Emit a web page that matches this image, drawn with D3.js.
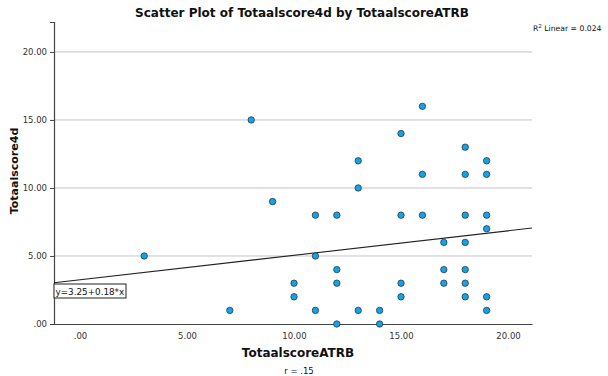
<!DOCTYPE html>
<html>
<head>
<meta charset="utf-8">
<script src="https://cdn.jsdelivr.net/npm/d3@7"></script>
<style>
  body { margin: 0; background: white; }
  text { font-family: "DejaVu Sans", Verdana, sans-serif; }
</style>
</head>
<body>
<div id="chart"></div>
<script>
// data
var atrb = [3, 7, 8, 9, 10, 10, 11, 11, 11, 12, 12, 12, 12, 13, 13, 13, 14, 14,
            15, 15, 15, 15, 16, 16, 16, 17, 17, 17,
            18, 18, 18, 18, 18, 18, 18, 19, 19, 19, 19, 19, 19];
var score4d = [5, 1, 15, 9, 3, 2, 8, 5, 1, 8, 4, 3, 0, 12, 10, 1, 1, 0,
               14, 8, 3, 2, 16, 11, 8, 6, 4, 3,
               13, 11, 8, 6, 4, 3, 2, 12, 11, 8, 7, 2, 1];
var xTicks = [0, 5, 10, 15, 20];
var yTicks = [0, 5, 10, 15, 20];
var fit = { a: 3.25, b: 0.18 };

var w = 608, h = 376;
var plotL = 54, plotR = 532, plotT = 22, plotB = 324;

var svg = d3.select("#chart").append("svg")
  .attr("width", w)
  .attr("height", h);

var x = d3.scaleLinear().domain([-1.215, 21.12]).range([plotL, plotR]);
var y = d3.scaleLinear().domain([0, 22.2]).range([plotB, plotT]);

var fmt = function(d) { return d === 0 ? ".00" : d3.format(".2f")(d); };

// gridlines
svg.append("g").selectAll("line")
  .data(yTicks.filter(function(d) { return d > 0; }))
  .enter().append("line")
  .attr("x1", plotL).attr("x2", plotR)
  .attr("y1", function(d) { return y(d); })
  .attr("y2", function(d) { return y(d); })
  .attr("stroke", "#c4c4c4")
  .attr("stroke-width", 1);

// axes
var xAxis = svg.append("g")
  .attr("transform", "translate(0," + plotB + ")")
  .call(d3.axisBottom(x).tickValues(xTicks).tickFormat(fmt).tickSize(0).tickPadding(9));
var yAxis = svg.append("g")
  .attr("transform", "translate(" + plotL + ",0)")
  .call(d3.axisLeft(y).tickValues(yTicks).tickFormat(fmt).tickSize(4).tickPadding(3));

[xAxis, yAxis].forEach(function(a) {
  a.select(".domain").attr("stroke", "#444").attr("stroke-width", 1.2);
  a.selectAll(".tick line").attr("stroke", "#444");
  a.selectAll("text").attr("fill", "#333").style("font-size", "8.5px")
    .style("font-family", "'DejaVu Sans', sans-serif");
});

// fit line
var line = d3.line()
  .x(function(d) { return x(d); })
  .y(function(d) { return y(fit.a + fit.b * d); });
svg.append("path")
  .datum(x.domain())
  .attr("d", line)
  .attr("fill", "none")
  .attr("stroke", "#222")
  .attr("stroke-width", 1.1);

// points
svg.append("g").selectAll("circle")
  .data(atrb)
  .enter().append("circle")
  .attr("cx", function(d) { return x(d); })
  .attr("cy", function(d, i) { return y(score4d[i]); })
  .attr("r", 3.2)
  .attr("fill", "#12a3e8")
  .attr("stroke", "#2a3a48")
  .attr("stroke-width", 0.8);

// equation label
var eq = svg.append("g").attr("transform", "translate(54,284)");
eq.append("rect")
  .attr("width", 72).attr("height", 14)
  .attr("fill", "white").attr("stroke", "#222").attr("stroke-width", 1);
eq.append("text")
  .attr("x", 1.5).attr("y", 10.5)
  .style("font-size", "8.8px")
  .attr("fill", "#111")
  .text("y=3.25+0.18*x");

// titles
svg.append("text")
  .attr("x", 302).attr("y", 17)
  .attr("text-anchor", "middle")
  .style("font-size", "12px").style("font-weight", "bold")
  .attr("fill", "#111")
  .text("Scatter Plot of Totaalscore4d by TotaalscoreATRB");

var r2 = svg.append("text")
  .attr("x", 533).attr("y", 31)
  .style("font-size", "7.7px")
  .attr("fill", "#111");
r2.append("tspan").text("R");
r2.append("tspan").attr("dy", -3).style("font-size", "5.5px").text("2");
r2.append("tspan").attr("dy", 3).text(" Linear = 0.024");

svg.append("text")
  .attr("x", 298).attr("y", 357)
  .attr("text-anchor", "middle")
  .style("font-size", "12px").style("font-weight", "bold")
  .attr("fill", "#111")
  .text("TotaalscoreATRB");

svg.append("text")
  .attr("transform", "translate(17.5,171) rotate(-90)")
  .attr("text-anchor", "middle")
  .style("font-size", "11px").style("font-weight", "bold")
  .attr("fill", "#111")
  .text("Totaalscore4d");

svg.append("text")
  .attr("x", 299).attr("y", 374)
  .attr("text-anchor", "middle")
  .style("font-size", "8.5px")
  .attr("fill", "#111")
  .text("r = .15");
</script>
</body>
</html>
